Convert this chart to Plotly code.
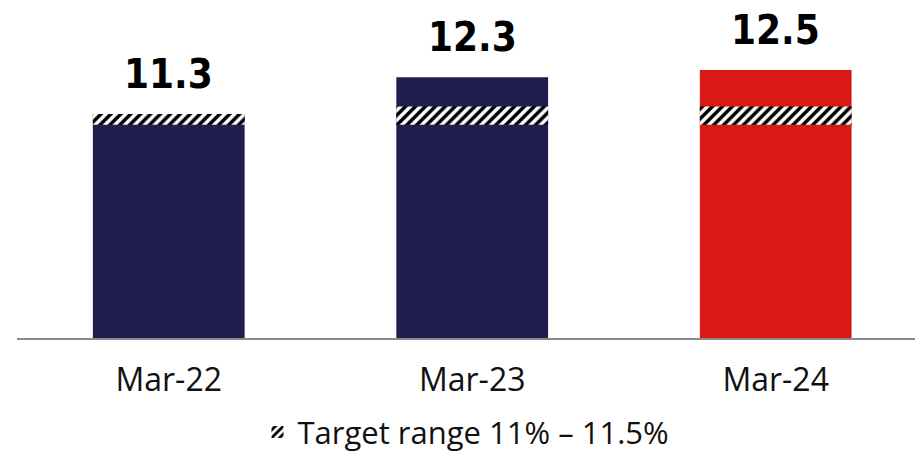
import plotly.graph_objects as go

categories = ["Mar-22", "Mar-23", "Mar-24"]
values = [11.3, 12.3, 12.5]
bar_colors = ["#211d4e", "#211d4e", "#d91a14"]
target_low = 11.0
target_high = 11.5
legend_label = "Target range 11% \u2013 11.5%"

band_base = [target_low for v in values]
band_height = [min(v, target_high) - target_low for v in values]

fig = go.Figure()
fig.add_trace(go.Bar(
    x=categories, y=values, marker=dict(color=bar_colors, line=dict(width=0)),
    width=0.5, showlegend=False, hoverinfo="skip",
))
fig.add_trace(go.Bar(
    x=categories, y=band_height, base=band_base, width=0.5,
    name=legend_label,
    marker=dict(color="white", line=dict(width=0),
                pattern=dict(shape="/", fgcolor="black", bgcolor="white",
                             size=7, solidity=0.5, fillmode="replace")),
    showlegend=True, hoverinfo="skip",
))

for c, v in zip(categories, values):
    fig.add_annotation(x=c, y=v, text="<b>%.1f</b>" % v, showarrow=False,
                       yanchor="bottom", yshift=15,
                       font=dict(family="DejaVu Sans Condensed, Liberation Sans Narrow, sans-serif",
                                 size=40, color="black"))

fig.update_layout(
    width=915, height=453,
    margin=dict(l=17, r=0, t=0, b=115, autoexpand=False),
    barmode="overlay",
    plot_bgcolor="white", paper_bgcolor="white",
    font=dict(family="Open Sans, sans-serif", color="#111"),
    xaxis=dict(range=[-0.5, 2.459], showline=True, linecolor="#8a8a8a", linewidth=2,
               ticks="", tickfont=dict(size=32, color="#111"), showgrid=False,
               ticklabelstandoff=13),
    yaxis=dict(range=[5.18, 14.41], visible=False, showgrid=False),
    legend=dict(orientation="h", x=0.5, xanchor="center", y=-0.279, yanchor="middle",
                font=dict(size=31, color="#111"), itemwidth=30),
    bargap=0.5,
)

fig.write_html("out.html", config={"displayModeBar": False},
               post_script="document.body.style.margin='0';document.body.style.overflow='hidden';")
